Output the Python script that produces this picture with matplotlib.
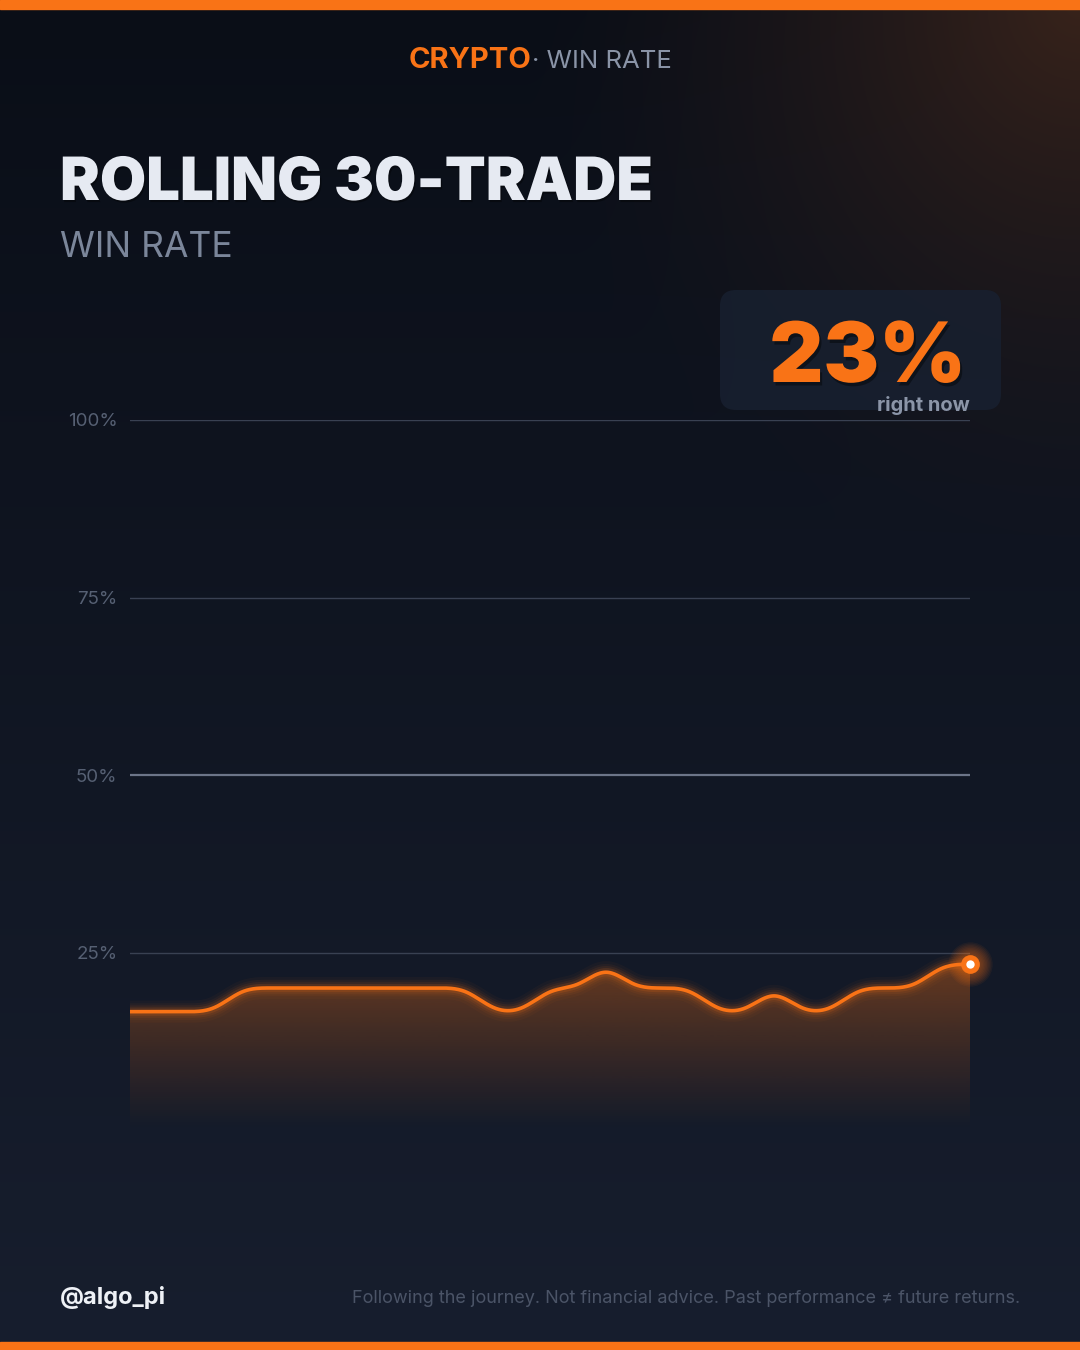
import numpy as np
import matplotlib
matplotlib.use("Agg")
import matplotlib.pyplot as plt
import matplotlib.patheffects as pe
from matplotlib.patches import FancyBboxPatch, Rectangle, Polygon
from matplotlib.colors import to_rgb

plt.rcParams['font.family'] = ['Inter', 'DejaVu Sans']

# rolling 30-trade window: wins inside the window, one value per trade
wins = [5, 5, 5, 5, 6, 6, 6, 6, 6, 6, 6, 6, 6, 5, 5, 6, 6, 7, 6, 6, 6,
        5, 5, 6, 5, 5, 6, 6, 6, 7, 7]
window = 30
win_rate = [w / window * 100 for w in wins]
trades = list(range(len(wins)))

y_ticks = [25, 50, 75, 100]
y_labels = ['25%', '50%', '75%', '100%']
current_label = '23%'

ORANGE = '#f97316'
W, H = 1080, 1350


def basis_curve(xs, ys, steps=30):
    # uniform cubic b-spline through padded control points (like d3 curveBasis)
    px = np.r_[xs[0], xs[0], xs, xs[-1], xs[-1]].astype(float)
    py = np.r_[ys[0], ys[0], ys, ys[-1], ys[-1]].astype(float)
    t = np.linspace(0, 1, steps, endpoint=False)
    b0 = (1 - t) ** 3 / 6
    b1 = (3 * t**3 - 6 * t**2 + 4) / 6
    b2 = (-3 * t**3 + 3 * t**2 + 3 * t + 1) / 6
    b3 = t**3 / 6
    ox, oy = [], []
    for i in range(len(px) - 3):
        ox.append(b0 * px[i] + b1 * px[i + 1] + b2 * px[i + 2] + b3 * px[i + 3])
        oy.append(b0 * py[i] + b1 * py[i + 1] + b2 * py[i + 2] + b3 * py[i + 3])
    ox.append([xs[-1]])
    oy.append([ys[-1]])
    return np.concatenate(ox), np.concatenate(oy)


fig = plt.figure(figsize=(10.8, 13.5), dpi=100)

# background: dark navy vertical gradient + warm glow in the top right corner
bg = fig.add_axes([0, 0, 1, 1])
yy, xx = np.mgrid[0:H, 0:W]
top = np.array(to_rgb('#0a0e17'))
bot = np.array(to_rgb('#171e2e'))
f = (yy / H)[..., None]
img = top * (1 - f) + bot * f
d = np.sqrt(((xx - W) / 560.0) ** 2 + (yy / 580.0) ** 2)
glow = np.clip(1 - d, 0, 1) ** 1.5
warm = np.array([56, 35, 27]) / 255.0
img = img * (1 - glow[..., None]) + warm * glow[..., None]
bg.imshow(img, extent=[0, W, H, 0], aspect='auto', zorder=0)
bg.set_xlim(0, W)
bg.set_ylim(H, 0)
bg.axis('off')

bg.add_patch(Rectangle((0, 0), W, 9, color=ORANGE, zorder=2))
bg.add_patch(Rectangle((0, H - 8), W, 8, color=ORANGE, zorder=2))

# header
bg.text(531, 68, 'CRYPTO', color=ORANGE, fontsize=21, fontweight='bold',
        ha='right', va='baseline')
bg.text(532, 68, '· WIN RATE', color='#8a94a7', fontsize=18.5,
        ha='left', va='baseline')

# title
bg.text(60, 200, 'ROLLING 30-TRADE', color='#e6eaf2', fontsize=43,
        fontweight='black', ha='left', va='baseline',
        path_effects=[pe.withSimplePatchShadow(offset=(1, -1.5), shadow_rgbFace='black', alpha=0.35)])
bg.text(60, 257, 'WIN RATE', color='#7b869a', fontsize=25.5,
        ha='left', va='baseline')

# current value badge
bg.add_patch(FancyBboxPatch((720, 290), 281, 120, boxstyle='round,pad=0,rounding_size=16',
                            fc='#182030', ec='none', alpha=0.85, zorder=2))
bg.text(966, 382, current_label, color=ORANGE, fontsize=60, fontweight='black',
        ha='right', va='baseline', zorder=3,
        path_effects=[pe.withSimplePatchShadow(offset=(1.5, -2.5), shadow_rgbFace='black', alpha=0.4)])
bg.text(970, 411, 'right now', color='#8b95a8', fontsize=14.5, fontweight='bold',
        ha='right', va='baseline', zorder=3)

# footer
bg.text(60, 1304, '@algo_pi', color='#eef1f6', fontsize=17, fontweight='bold',
        ha='left', va='baseline')
bg.text(1020, 1303, 'Following the journey. Not financial advice. Past performance \u2260 future returns.',
        color='#4b5467', fontsize=13, ha='right', va='baseline')

# chart
ax = fig.add_axes([130 / W, (H - 1130) / H, 840 / W, 710 / H])
ax.patch.set_alpha(0)
ax.set_xlim(trades[0], trades[-1])
ax.set_ylim(0, 100)
for s in ax.spines.values():
    s.set_visible(False)
ax.set_xticks([])
ax.set_yticks(y_ticks)
ax.set_yticklabels(y_labels, color='#566073', fontsize=13.5)
ax.tick_params(axis='y', length=0, pad=9)
for lab in ax.get_yticklabels():
    lab.set_va('center_baseline')

for t in y_ticks:
    if t == 50:
        ax.axhline(t, color='#6c7588', lw=1.6, zorder=1)
    else:
        ax.axhline(t, color='#394152', lw=1.0, zorder=1)

cx, cy = basis_curve(np.array(trades), np.array(win_rate))

# area fill with vertical fade
top_y = max(win_rate) + 1
grad = np.zeros((256, 1, 4))
grad[..., :3] = to_rgb(ORANGE)
ramp = np.linspace(0, 1, 256)
grad[:, 0, 3] = 0.38 * ramp ** 1.1
poly = Polygon(np.c_[np.r_[cx, cx[-1], cx[0]], np.r_[cy, 0, 0]], closed=True,
               fc='none', ec='none')
ax.add_patch(poly)
im = ax.imshow(grad, extent=[trades[0], trades[-1], 0, top_y], origin='lower',
               aspect='auto', zorder=2)
im.set_clip_path(poly)

# glowing line
for lw, a in [(16, 0.035), (12, 0.05), (9, 0.08), (6, 0.14)]:
    ax.plot(cx, cy, color=ORANGE, lw=lw, alpha=a, solid_capstyle='round', zorder=3)
ax.plot(cx, cy, color=ORANGE, lw=2.6, solid_capstyle='round', zorder=4)

# last point marker with soft glow
lx, ly = trades[-1], win_rate[-1]
for ms in np.linspace(32, 16, 9):
    ax.plot(lx, ly, 'o', color=ORANGE, ms=ms, alpha=0.06, mec='none', zorder=5, clip_on=False)
ax.plot(lx, ly, 'o', color=ORANGE, ms=13.5, mec='none', zorder=6, clip_on=False)
ax.plot(lx, ly, 'o', color='white', ms=6, mec='none', zorder=7, clip_on=False)

fig.savefig('out.png', dpi=100)
